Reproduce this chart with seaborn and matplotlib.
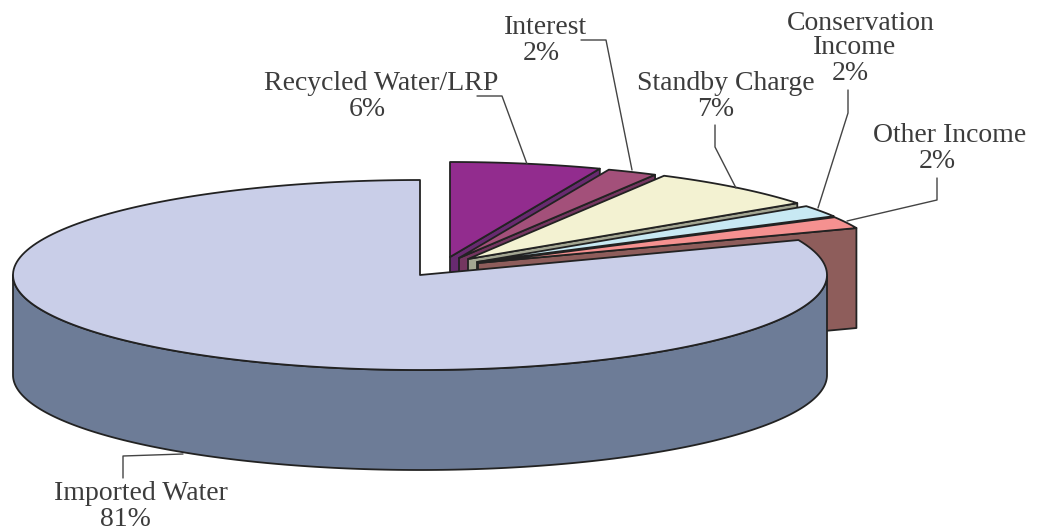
# -*- coding: utf-8 -*-
"""
Revenue sources, exploded 3D style pie
"""

import numpy as np
import matplotlib.pyplot as plt
import seaborn as sns

# clockwise from 12 o'clock, main slice comes last
categories = ['Recycled Water/LRP', 'Interest', 'Standby Charge',
              'Conservation Income', 'Other Income', 'Imported Water']
values = [6, 2, 7, 2, 2, 81]

top_colors = ['#922C8E', '#A3507A', '#F3F2D2', '#C8E9F3', '#F59190', '#C9CEE8']
wall_colors = ['#682A70', '#743660', '#A3A692', '#5F8C98', '#8E5D5B', '#6D7C97']

sns.set_style('white')
plt.rcParams['font.family'] = ['Liberation Serif', 'DejaVu Serif']

RX, RY, DEPTH = 407, 95, 100
LINE = '#222222'
TEXT = '#3C3C3C'

# apex of every slice, pixels (explode offsets differ per slice)
apex_x = [450, 459, 468, 477, 478, 420]
apex_y = [257, 258, 259, 262, 263, 275]


def rim(cx, cy, a0, a1, dy=0):
    t = np.radians(np.linspace(a0, a1, 200))
    return cx + RX * np.cos(t), cy - RY * np.sin(t) + dy


def draw_poly(ax, x, y, color, lw=1.3):
    ax.fill(x, y, facecolor=color, edgecolor=LINE, linewidth=lw,
            joinstyle='round')


fig, ax = plt.subplots(figsize=(10.37, 5.31), dpi=100)
fig.subplots_adjust(0, 0, 1, 1)
ax.set_xlim(0, 1037)
ax.set_ylim(531, 0)
ax.axis('off')

angle = 90.0
for i, val in enumerate(values):
    sweep = val / sum(values) * 360
    a_hi, a_lo = angle, angle - sweep
    angle = a_lo
    cx, cy = apex_x[i], apex_y[i]
    if i == len(values) - 1:
        # main slice: front wall of the cylinder, then top going the long way
        wx, wy = rim(cx, cy, 180, 360)
        bx, by = rim(cx, cy, 360, 180, DEPTH)
        draw_poly(ax, np.r_[wx, bx], np.r_[wy, by], wall_colors[i])
    else:
        # radial wall under the lower edge
        ex, ey = rim(cx, cy, a_lo, a_lo)
        draw_poly(ax, [cx, ex[0], ex[0], cx],
                  [cy, ey[0], ey[0] + DEPTH, cy + DEPTH], wall_colors[i])
    tx, ty = rim(cx, cy, a_lo, a_hi)
    draw_poly(ax, np.r_[cx, tx], np.r_[cy, ty], top_colors[i])

# label lines, each one placed by hand as in the original
label_lines = [
    ('Imported Water', 141, 494), ('81%', 125, 519),
    ('Recycled Water/LRP', 381, 83), ('6%', 367, 110),
    ('Interest', 546, 27), ('2%', 541, 54),
    ('Standby Charge', 726, 83), ('7%', 716, 110),
    ('Conservation', 861, 23), ('Income', 855, 48), ('2%', 850, 74),
    ('Other Income', 950, 136), ('2%', 937, 162),
]
for txt, x, y in label_lines:
    ax.text(x, y, txt, ha='center', va='center', color=TEXT, fontsize=20)

leaders = [
    [(123, 478), (123, 456), (183, 454)],
    [(477, 96), (502, 96), (527, 164)],
    [(581, 40), (606, 40), (632, 170)],
    [(715, 125), (715, 147), (736, 188)],
    [(848, 90), (848, 113), (818, 208)],
    [(937, 178), (937, 200), (847, 221)],
]
for pts in leaders:
    xs, ys = zip(*pts)
    ax.plot(xs, ys, color='#444444', lw=1)

plt.savefig('out.png', dpi=100)
